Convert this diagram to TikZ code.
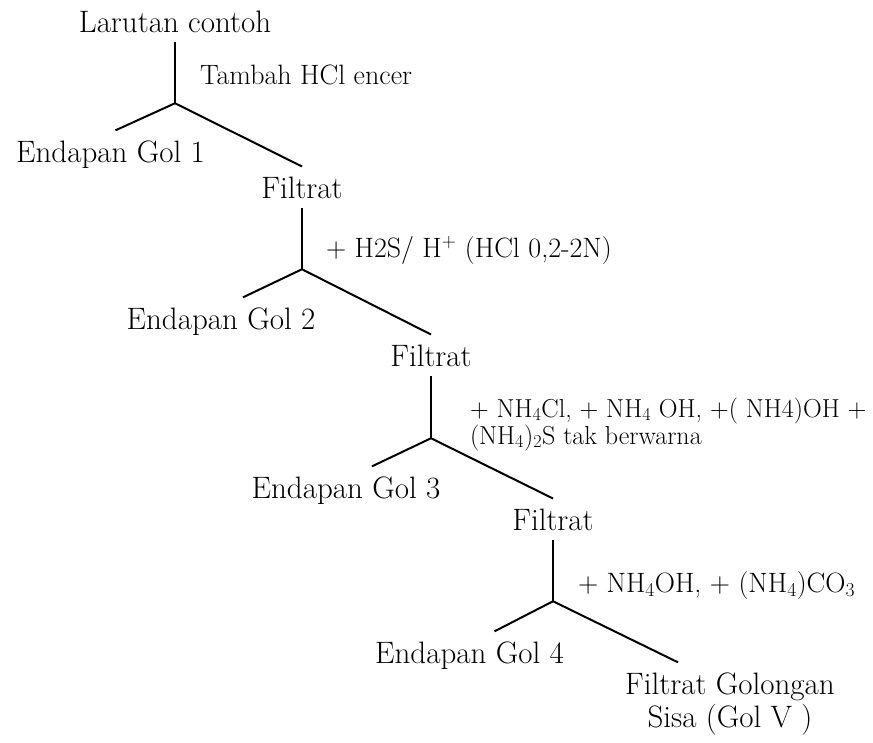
\documentclass[tikz,border=0pt]{standalone}
\usepackage{tikz}

\begin{document}
\begin{tikzpicture}
    [x=1pt,y=-1pt,line width=2pt,
     txt/.style={inner sep=9pt,anchor=base,font=\fontsize{31}{33}\selectfont},
     lbl/.style={inner sep=0pt,anchor=base west,align=left,font=\fontsize{28}{27}\selectfont}]
    \useasboundingbox (0,0) rectangle (873,742);
    %Nodes
    \node[txt] (lar) at (175,32){Larutan contoh};
    \node[lbl] (hcl) at (199,84){Tambah HCl encer};
    \node[txt] (gol1) at (110.5,162){Endapan Gol 1};
    \node[txt] (fil1) at (302,198){Filtrat};
    \node[lbl] (hs) at (325,257){+ H2S/ H\textsuperscript{+} (HCl 0,2-2N)};
    \node[txt] (gol2) at (221,329){Endapan Gol 2};
    \node[txt] (fil2) at (431,366){Filtrat};
    \node[lbl,font=\fontsize{26}{27}\selectfont] (nhs) at (469,444){+ NH\textsubscript{4}Cl, + NH\textsubscript{4} OH, +( NH4)OH +\\(NH\textsubscript{4})\textsubscript{2}S tak berwarna};
    \node[txt] (gol3) at (346,498){Endapan Gol 3};
    \node[txt] (fil3) at (553,530){Filtrat};
    \node[lbl] (nco) at (577,592){+ NH\textsubscript{4}OH, + (NH\textsubscript{4})CO\textsubscript{3}};
    \node[txt] (gol4) at (469.5,663){Endapan Gol 4};
    \node[txt,align=center] (sisa) at (730,727){Filtrat Golongan\\Sisa (Gol V )};

    %Edges
    \draw (lar.south) -- ++(0,61) coordinate (j1);
    \draw (j1) -- ([xshift=5pt]gol1.north);
    \draw (j1) -- (fil1.north);
    \draw (fil1.south) -- ++(0,61) coordinate (j2);
    \draw (j2) -- ([xshift=22pt]gol2.north);
    \draw (j2) -- (fil2.north);
    \draw (fil2.south) -- ++(0,62) coordinate (j3);
    \draw (j3) -- ([xshift=26pt]gol3.north);
    \draw (j3) -- (fil3.north);
    \draw (fil3.south) -- ++(0,61) coordinate (j4);
    \draw (j4) -- ([xshift=25pt]gol4.north);
    \draw (j4) -- ([xshift=-52pt]sisa.north);

\end{tikzpicture}
\end{document}
